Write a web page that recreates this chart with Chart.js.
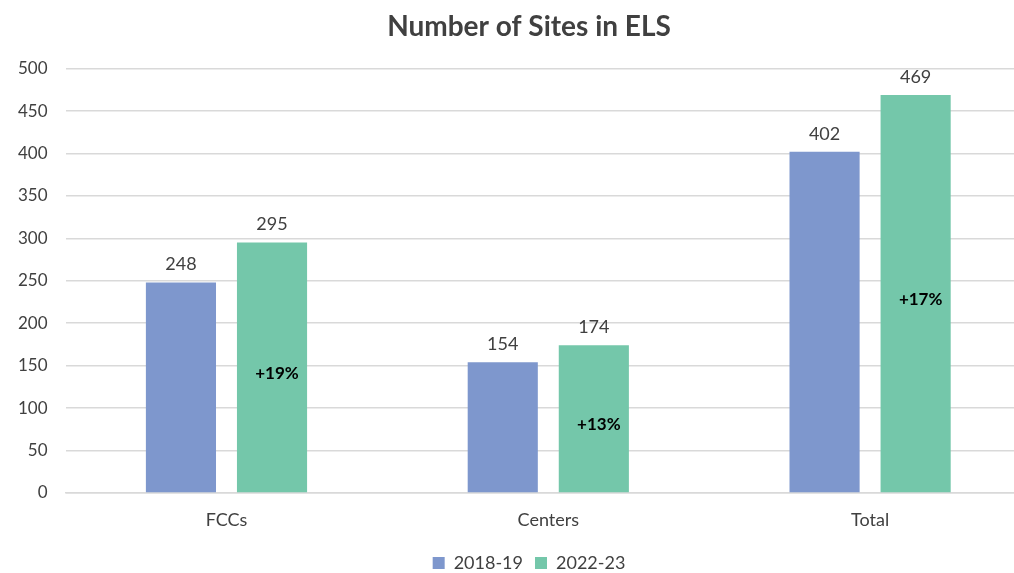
<!DOCTYPE html>
<html lang="en">
<head>
    <meta charset="UTF-8">
    <title>Number of Sites in ELS</title>
    <script src="https://cdn.jsdelivr.net/npm/chart.js"></script>
    <style>
        body { margin: 0; background: #fff; overflow: hidden; }
        /* the original chart is a bit wider than the window and gets cut on the right */
        #wrap { width: 1058px; height: 573px; }
    </style>
</head>
<body>
    <div id="wrap"><canvas id="sitesChart"></canvas></div>
    <script>
        const categories = ["FCCs", "Centers", "Total"];
        const sites2018 = [248, 154, 402];
        const sites2022 = [295, 174, 469];
        const growthLabels = ["+19%", "+13%", "+17%"];
        const yTicks = [0, 50, 100, 150, 200, 250, 300, 350, 400, 450, 500];

        const fontFamily = "Lato, 'Open Sans', sans-serif";

        // value labels above bars + growth label inside the 2022-23 bars
        const barLabels = {
            id: "barLabels",
            afterDatasetsDraw(chart) {
                const ctx = chart.ctx;
                ctx.save();
                ctx.textAlign = "center";
                chart.data.datasets.forEach((ds, i) => {
                    chart.getDatasetMeta(i).data.forEach((bar, j) => {
                        ctx.fillStyle = "#404040";
                        ctx.font = "18px " + fontFamily;
                        ctx.textBaseline = "bottom";
                        ctx.fillText(ds.data[j], bar.x, bar.y - 9);
                        if (i === 1) {
                            ctx.fillStyle = "#000";
                            ctx.font = "bold 17px " + fontFamily;
                            ctx.textBaseline = "middle";
                            ctx.fillText(growthLabels[j], bar.x + 5, (bar.y + bar.base) / 2 + 6);
                        }
                    });
                });
                ctx.restore();
            }
        };

        new Chart(document.getElementById("sitesChart"), {
            type: "bar",
            data: {
                labels: categories,
                datasets: [
                    { label: "2018-19", data: sites2018, backgroundColor: "#7e97cd" },
                    { label: "2022-23", data: sites2022, backgroundColor: "#74c7aa" }
                ]
            },
            options: {
                responsive: true,
                maintainAspectRatio: false,
                animation: false,
                layout: { padding: { left: 0, right: 0, top: 0, bottom: -9 } },
                datasets: { bar: { categoryPercentage: 0.566, barPercentage: 0.77 } },
                plugins: {
                    title: {
                        display: true,
                        text: "Number of Sites in ELS",
                        color: "#404040",
                        font: { family: fontFamily, size: 28, weight: "bold" },
                        padding: { top: 10, bottom: 25 }
                    },
                    legend: {
                        position: "bottom",
                        labels: {
                            color: "#404040",
                            font: { family: fontFamily, size: 18 },
                            boxWidth: 12,
                            boxHeight: 12,
                            padding: 12
                        }
                    },
                    tooltip: { enabled: false }
                },
                scales: {
                    x: {
                        grid: { display: false },
                        border: { color: "#d9d9d9", width: 1.5 },
                        ticks: { color: "#404040", font: { family: fontFamily, size: 18 }, padding: 8 },
                        afterFit(axis) { axis.height = 49; }
                    },
                    y: {
                        min: 0,
                        max: 500,
                        afterBuildTicks(axis) { axis.ticks = yTicks.map(v => ({ value: v })); },
                        grid: { color: "#d9d9d9", lineWidth: 1.5, drawTicks: false },
                        border: { display: false },
                        ticks: { color: "#404040", font: { family: fontFamily, size: 17 }, padding: 18 }
                    },
                    // empty right-hand spacer so the plot stops short of the canvas edge
                    spacer: {
                        position: "right",
                        grid: { display: false },
                        border: { display: false },
                        ticks: { display: false },
                        afterFit(axis) { axis.width = 27; }
                    }
                }
            },
            plugins: [barLabels]
        });
    </script>
</body>
</html>
